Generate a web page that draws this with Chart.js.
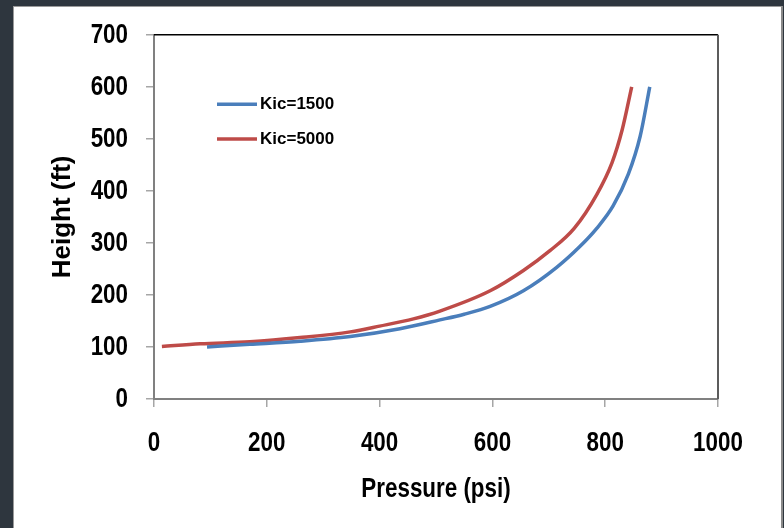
<!DOCTYPE html>
<html>
<head>
<meta charset="utf-8">
<script src="https://cdn.jsdelivr.net/npm/chart.js@4.4.1/dist/chart.umd.min.js"></script>
<style>
  html, body { margin: 0; padding: 0; }
  body { width: 784px; height: 528px; background: #2e363e; position: relative; overflow: hidden; }
  #frame { position: absolute; left: 13px; top: 6px; width: 767px; height: 530px; background: #ffffff;
           border-left: 1px solid #9a9a9a; border-top: 1px solid #9a9a9a; border-right: 2px solid #8a8a8a; }
  #c { position: absolute; left: 0; top: 0; }
</style>
</head>
<body>
<div id="frame"></div>
<canvas id="c" width="784" height="528"></canvas>
<script>
// ---- data ----
const seriesNames = ['Kic=1500', 'Kic=5000'];
const pressureKic1500 = [94, 170, 259, 348, 436, 507, 550, 596, 655, 714, 755, 785, 814, 841, 862, 879];
const heightKic1500   = [100, 105, 111, 120, 135, 152, 163, 178, 208, 253, 293, 328, 371, 432, 505, 600];
const pressureKic5000 = [14, 82, 170, 259, 348, 400, 460, 507, 596, 655, 702, 745, 785, 812, 830, 847];
const heightKic5000   = [101, 106, 110, 118, 129, 140, 154, 169, 208, 247, 285, 328, 393, 454, 517, 600];
const xTicks = [0, 200, 400, 600, 800, 1000];
const yTicks = [0, 100, 200, 300, 400, 500, 600, 700];
const xTitle = 'Pressure (psi)';
const yTitle = 'Height (ft)';

const toPts = (xs, ys) => xs.map((x, i) => ({ x: x, y: ys[i] }));
const AXF = '"Liberation Sans", Arial, sans-serif';
const REG = '"Liberation Sans", Arial, sans-serif';

const canvas = document.getElementById('c');
const ctx2d = canvas.getContext('2d');
// axis fonts in the reference are a condensed bold face: draw them horizontally condensed
const origFillText = ctx2d.fillText.bind(ctx2d);
ctx2d.fillText = function (t, x, y, mw) {
  if (/\b28px\b/.test(ctx2d.font)) {
    const w = ctx2d.measureText(t).width * 0.8;
    return origFillText(t, x, y, mw !== undefined ? Math.min(mw, w) : w);
  }
  return mw !== undefined ? origFillText(t, x, y, mw) : origFillText(t, x, y);
};

const frameBorder = {
  id: 'frameBorder',
  afterDatasetsDraw(chart) {
    const a = chart.chartArea, ctx = chart.ctx;
    ctx.save();
    ctx.lineWidth = 1.5;
    ctx.strokeStyle = '#000000';
    ctx.beginPath(); ctx.moveTo(a.left, a.top); ctx.lineTo(a.right, a.top); ctx.stroke();
    ctx.lineWidth = 2;
    ctx.strokeStyle = '#5c5c5c';
    ctx.beginPath(); ctx.moveTo(a.right, a.top); ctx.lineTo(a.right, a.bottom); ctx.stroke();
    ctx.restore();
  }
};

const insideLegend = {
  id: 'insideLegend',
  afterDraw(chart) {
    const a = chart.chartArea, ctx = chart.ctx;
    ctx.save();
    chart.data.datasets.forEach((ds, i) => {
      const y = a.top + 69.5 + i * 34.7;
      ctx.strokeStyle = ds.borderColor;
      ctx.lineWidth = 3.5;
      ctx.lineCap = 'butt';
      ctx.beginPath(); ctx.moveTo(a.left + 63, y); ctx.lineTo(a.left + 103, y); ctx.stroke();
      ctx.fillStyle = '#000000';
      ctx.font = 'bold 17px ' + REG;
      ctx.textBaseline = 'middle';
      ctx.textAlign = 'left';
      ctx.fillText(ds.label, a.left + 106, y + 0.5);
    });
    ctx.restore();
  }
};

new Chart(canvas, {
  type: 'scatter',
  data: {
    datasets: [
      { label: seriesNames[0], data: toPts(pressureKic1500, heightKic1500), showLine: true,
        borderColor: '#4a7ebb', backgroundColor: '#4a7ebb', borderWidth: 3.5, pointRadius: 0,
        cubicInterpolationMode: 'monotone', fill: false },
      { label: seriesNames[1], data: toPts(pressureKic5000, heightKic5000), showLine: true,
        borderColor: '#be4b48', backgroundColor: '#be4b48', borderWidth: 3.5, pointRadius: 0,
        cubicInterpolationMode: 'monotone', fill: false }
    ]
  },
  options: {
    responsive: false,
    animation: false,
    devicePixelRatio: 1,
    layout: { padding: { left: 30, right: 66, top: 33, bottom: 10 } },
    plugins: { legend: { display: false }, tooltip: { enabled: false } },
    scales: {
      x: {
        type: 'linear', min: 0, max: 1000,
        afterBuildTicks(s) { s.ticks = xTicks.map(v => ({ value: v })); },
        afterFit(s) { s.height = 119; },
        ticks: { color: '#000000', padding: 19, callback: v => String(v),
                 font: { family: AXF, size: 28, weight: 'bold' } },
        grid: { drawOnChartArea: false, drawTicks: true, tickLength: 8, color: '#a6a6a6', lineWidth: 1.5 },
        border: { display: true, color: '#808080', width: 2 },
        title: { display: true, text: xTitle, color: '#000000', padding: { top: 0, bottom: 12 },
                 font: { family: AXF, size: 28, weight: 'bold' } }
      },
      y: {
        type: 'linear', min: 0, max: 700,
        afterBuildTicks(s) { s.ticks = yTicks.map(v => ({ value: v })); },
        afterFit(s) { s.width = 124; },
        ticks: { color: '#000000', padding: 18, callback: v => String(v),
                 font: { family: AXF, size: 28, weight: 'bold' } },
        grid: { drawOnChartArea: false, drawTicks: true, tickLength: 8, color: '#a6a6a6', lineWidth: 1.5 },
        border: { display: true, color: '#808080', width: 2 },
        title: { display: true, text: yTitle, color: '#000000', padding: { top: 17, bottom: 0 },
                 font: { family: AXF, size: 26, weight: 'bold' } }
      }
    }
  },
  plugins: [frameBorder, insideLegend]
});
</script>
</body>
</html>
